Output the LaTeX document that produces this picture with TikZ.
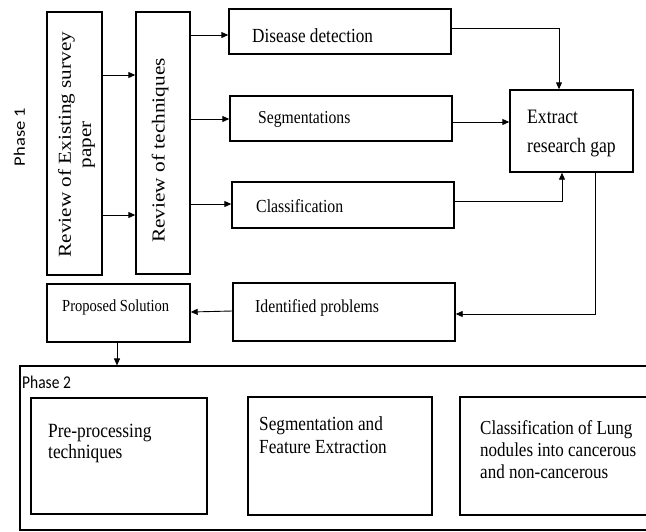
\documentclass[tikz,border=0pt]{standalone}
\usepackage{fontspec}
\usepackage{graphicx}
\setmainfont{Liberation Serif}[FakeStretch=0.86]
\newfontfamily\rotfont{Liberation Serif}
\newfontfamily\calfont{Carlito}[FakeStretch=0.86]
\newfontfamily\calrot{Carlito}
\usetikzlibrary{arrows.meta}
\tikzset{
  box/.style={draw, line width=1.4pt, inner sep=0pt},
  thickbox/.style={draw, line width=2.6pt, inner sep=0pt},
  phasebox/.style={draw, line width=1.1pt, inner sep=0pt},
  txt/.style={inner sep=0pt, anchor=base west},
  arr/.style={-{Triangle[length=7pt,width=6pt]}, line width=0.9pt},
}
\begin{document}
\begin{tikzpicture}[x=1pt,y=-1pt]
\useasboundingbox (0,0) rectangle (646,531);
\clip (0,0) rectangle (646,531);
\fill[white] (0,0) rectangle (646,531);

% Phase 1 label
\node[inner sep=0pt, rotate=90] (ph1) at (19.5,137) {\scalebox{1}[0.86]{\calrot\fontsize{18.5}{22}\selectfont Phase 1}};

% Review boxes
\node[box, minimum width=55pt, minimum height=263pt] (re) at (74.5,143.5) {};
\node[inner sep=0pt, rotate=90] (ret) at (77,144.5) {\scalebox{1}[0.86]{\rotfont\fontsize{21.2}{23.5}\selectfont\begin{tabular}{@{}c@{}}Review of Existing survey\\paper\end{tabular}}};
\node[box, minimum width=54pt, minimum height=262pt] (rt) at (163,143) {};
\node[inner sep=0pt, rotate=90] (rtt) at (160,150.5) {\scalebox{1}[0.86]{\rotfont\fontsize{21.3}{24}\selectfont Review of techniques}};

% middle boxes
\node[box, minimum width=222pt, minimum height=45pt] (dd) at (340,31.5) {};
\node[txt, font=\fontsize{20}{23}\selectfont] (ddt) at (252,42) {Disease detection};
\node[box, minimum width=222pt, minimum height=45pt] (sg) at (341,118.5) {};
\node[txt, font=\fontsize{18.2}{21}\selectfont] (sgt) at (258,123) {Segmentations};
\node[box, minimum width=222pt, minimum height=46pt] (cl) at (343,205) {};
\node[txt, font=\fontsize{18.4}{21}\selectfont] (clt) at (256,212) {Classification};

% Extract research gap
\node[box, minimum width=123pt, minimum height=82pt] (erg) at (571.5,131) {};
\node[txt, font=\fontsize{20.5}{29}\selectfont] (ergt) at (527,123) {\begin{tabular}[t]{@{}l@{}}Extract\\research gap\end{tabular}};

% Proposed solution / identified problems
\node[box, minimum width=143pt, minimum height=58pt] (ps) at (118.5,313) {};
\node[txt, font=\fontsize{16.9}{20}\selectfont] (pst) at (62,311) {Proposed Solution};
\node[box, minimum width=222pt, minimum height=58pt] (ip) at (344,312) {};
\node[txt, font=\fontsize{18.3}{21}\selectfont] (ipt) at (255,312) {Identified problems};

% Phase 2
\node[phasebox, minimum width=660pt, minimum height=164pt] (p2) at (350,448) {};
\node[txt, font=\calfont\fontsize{18}{21}\selectfont] (p2t) at (22,388) {Phase 2};
\node[thickbox, minimum width=176pt, minimum height=116pt] (pp) at (119,456) {};
\node[txt, font=\fontsize{20.2}{21}\selectfont] (ppt) at (48,437) {\begin{tabular}[t]{@{}l@{}}Pre-processing\\techniques\end{tabular}};
\node[thickbox, minimum width=184pt, minimum height=118pt] (sf) at (340,456) {};
\node[txt, font=\fontsize{20}{23}\selectfont] (sft) at (259,430) {\begin{tabular}[t]{@{}l@{}}Segmentation and\\Feature Extraction\end{tabular}};
\node[thickbox, minimum width=220pt, minimum height=118pt] (cll) at (570,456) {};
\node[txt, font=\fontsize{19.8}{22}\selectfont] (cllt) at (480,434) {\begin{tabular}[t]{@{}l@{}}Classification of Lung\\nodules into cancerous\\and non-cancerous\end{tabular}};

% connectors
\draw[arr] (re.east |- 0,75) -- (rt.west |- 0,75);
\draw[arr] (re.east |- 0,215) -- (rt.west |- 0,215);
\draw[arr] (rt.east |- 0,35) -- (dd.west |- 0,35);
\draw[arr] (rt.east |- 0,119) -- (sg.west |- 0,119);
\draw[arr] (rt.east |- 0,204) -- (cl.west |- 0,204);
\draw[arr] (dd.east |- 0,28) -| (559,0 |- erg.north);
\draw[arr] (sg.east |- 0,122) -- (erg.west |- 0,122);
\draw[arr] (cl.east |- 0,201) -| (562,0 |- erg.south);
\draw[arr] (595,0 |- erg.south) |- (ip.east |- 0,314);
\draw[arr] (ip.west |- 0,311) -- (ps.east |- 0,312);
\draw[arr] (117,0 |- ps.south) -- (117,0 |- p2.north);
\end{tikzpicture}
\end{document}
